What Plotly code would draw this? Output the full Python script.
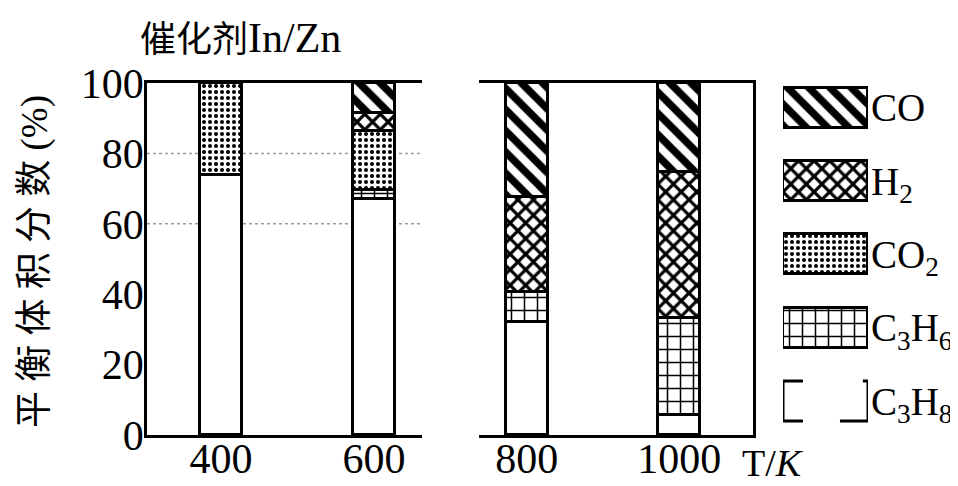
import plotly.graph_objects as go

# ---------------- data ----------------
temps = [400, 600, 800, 1000]
# stack order bottom -> top
species = ["C3H8", "C3H6", "CO2", "H2", "CO"]
species_labels = ["C<sub>3</sub>H<sub>8</sub>", "C<sub>3</sub>H<sub>6</sub>",
                  "CO<sub>2</sub>", "H<sub>2</sub>", "CO"]
C3H8 = [74, 67, 32, 5.7]
C3H6 = [0, 2.5, 8.5, 27.5]
CO2 = [26, 17, 0, 0]
H2 = [0, 5, 27, 41.5]
CO = [0, 8.5, 32.5, 25.3]
values = {"C3H8": C3H8, "C3H6": C3H6, "CO2": CO2, "H2": H2, "CO": CO}
y_ticks = [0, 20, 40, 60, 80, 100]
grid_levels = [60, 80]

# ---------------- styles ----------------
patterns = {
    "C3H8": dict(shape=""),
    "C3H6": dict(shape="+", size=13, solidity=0.22),
    "CO2": dict(shape=".", size=6, solidity=0.35),
    "H2": dict(shape="x", size=11, solidity=0.5),
    "CO": dict(shape="\\", size=15, solidity=0.5),
}
SERIF = "Liberation Serif, Times New Roman, serif"
CJK = "Liberation Serif, Noto Sans CJK SC, serif"

# page has an 8px body margin; the figure is sized to fit the window exactly
OFF = 8
W, H = 950, 478
ML, MR, MT, MB = 139, 20, 75, 51
PW = W - ML - MR
PH = H - MT - MB


def fx(p):  # screen pixel -> paper x
    return (p - OFF - ML) / PW


def fy(p):  # screen pixel -> paper y
    return (H - MB - (p - OFF)) / PH


fig = go.Figure()

panels = [("x", "y", temps[:2], slice(0, 2)), ("x2", "y2", temps[2:], slice(2, 4))]
for xa, ya, xs, sl in panels:
    for sp in species:
        pat = patterns[sp]
        fig.add_trace(go.Bar(
            x=xs, y=values[sp][sl], xaxis=xa, yaxis=ya, width=55,
            marker=dict(color="white", line=dict(color="black", width=3),
                        pattern=dict(fgcolor="black", bgcolor="white", fillmode="replace", **pat)
                        if pat["shape"] else None),
            showlegend=False, hoverinfo="skip"))

# legend swatches as horizontal bars in their own small axis
legend_pos = list(range(len(species)))  # C3H8 bottom (0) ... CO top (4)
for i, sp in enumerate(species):
    pat = patterns[sp]
    is_blank = not pat["shape"]
    fig.add_trace(go.Bar(
        y=[legend_pos[i]], x=[1], orientation="h", xaxis="x3", yaxis="y3", width=0.546,
        marker=dict(color="rgba(0,0,0,0)" if is_blank else "white",
                    line=dict(color="black", width=0 if is_blank else 3),
                    pattern=None if is_blank else dict(fgcolor="black", bgcolor="white",
                                                       fillmode="replace", **pat)),
        showlegend=False, hoverinfo="skip"))

# bracket-style swatch for C3H8
bh = 0.273
y0, y1 = legend_pos[0] - bh, legend_pos[0] + bh
shapes = [
    dict(type="path", xref="x3", yref="y3",
         path=f"M 0.235 {y1} L 0 {y1} L 0 {y0} L 0.235 {y0}",
         line=dict(color="black", width=3)),
    dict(type="path", xref="x3", yref="y3",
         path=f"M 0.94 {y1} L 1 {y1} L 1 {y0} L 0.67 {y0}",
         line=dict(color="black", width=3)),
]
for g in grid_levels:
    shapes.append(dict(type="line", xref="x domain", yref="y", x0=0, x1=1, y0=g, y1=g,
                       layer="below", line=dict(color="#9a9a9a", width=1.5, dash="dot")))

axis_common = dict(showgrid=False, zeroline=False, ticks="", fixedrange=True, automargin=False)

fig.update_layout(
    width=W, height=H, margin=dict(l=ML, r=MR, t=MT, b=MB, autoexpand=False),
    paper_bgcolor="white", plot_bgcolor="white", barmode="stack", bargap=0,
    font=dict(family=SERIF, color="black", size=38),
    shapes=shapes,
    xaxis=dict(domain=[0, fx(422)], range=[303.3, 662.7], tickvals=temps[:2],
               showline=True, linecolor="black", linewidth=2.5, mirror=True,
               tickfont=dict(size=42), ticklabelstandoff=-15, anchor="y", **axis_common),
    xaxis2=dict(domain=[fx(479), fx(753)], range=[737.3, 1096.7], tickvals=temps[2:],
                showline=True, linecolor="black", linewidth=2.5, mirror=True,
                tickfont=dict(size=42), ticklabelstandoff=-15, anchor="y2", **axis_common),
    yaxis=dict(range=[0, 100], tickvals=y_ticks, showline=True, linecolor="black",
               linewidth=2.5, tickfont=dict(size=42), ticklabelstandoff=-8, anchor="x",
               **axis_common),
    yaxis2=dict(range=[0, 100], matches="y", anchor="x2", side="right", showline=True,
                linecolor="black", linewidth=2.5, showticklabels=False, **axis_common),
    xaxis3=dict(domain=[fx(783), fx(868)], range=[0, 1], visible=False, anchor="y3",
                **axis_common),
    yaxis3=dict(range=[-0.464, 4.338], anchor="x3", side="right", showline=False,
                tickvals=legend_pos, ticktext=species_labels, tickfont=dict(size=39),
                ticklabelstandoff=2, **axis_common),
    annotations=[
        dict(text="催化剂<span style='font-size:42px'>In/Zn</span>", xref="paper",
             yref="paper", x=fx(240), y=fy(38),
             xanchor="center", yanchor="middle", showarrow=False,
             font=dict(family=CJK, size=36)),
        dict(text="平 衡 体 积 分 数 (%)", xref="paper", yref="paper", x=fx(35), y=fy(262),
             xanchor="center", yanchor="middle", textangle=-90, showarrow=False,
             font=dict(family=CJK, size=37)),
        dict(text="T/<i>K</i>", xref="paper", yref="paper", x=fx(772), y=fy(463),
             xanchor="center", yanchor="middle", showarrow=False,
             font=dict(family=SERIF, size=38)),
    ],
)

fig.write_html("out.html")
